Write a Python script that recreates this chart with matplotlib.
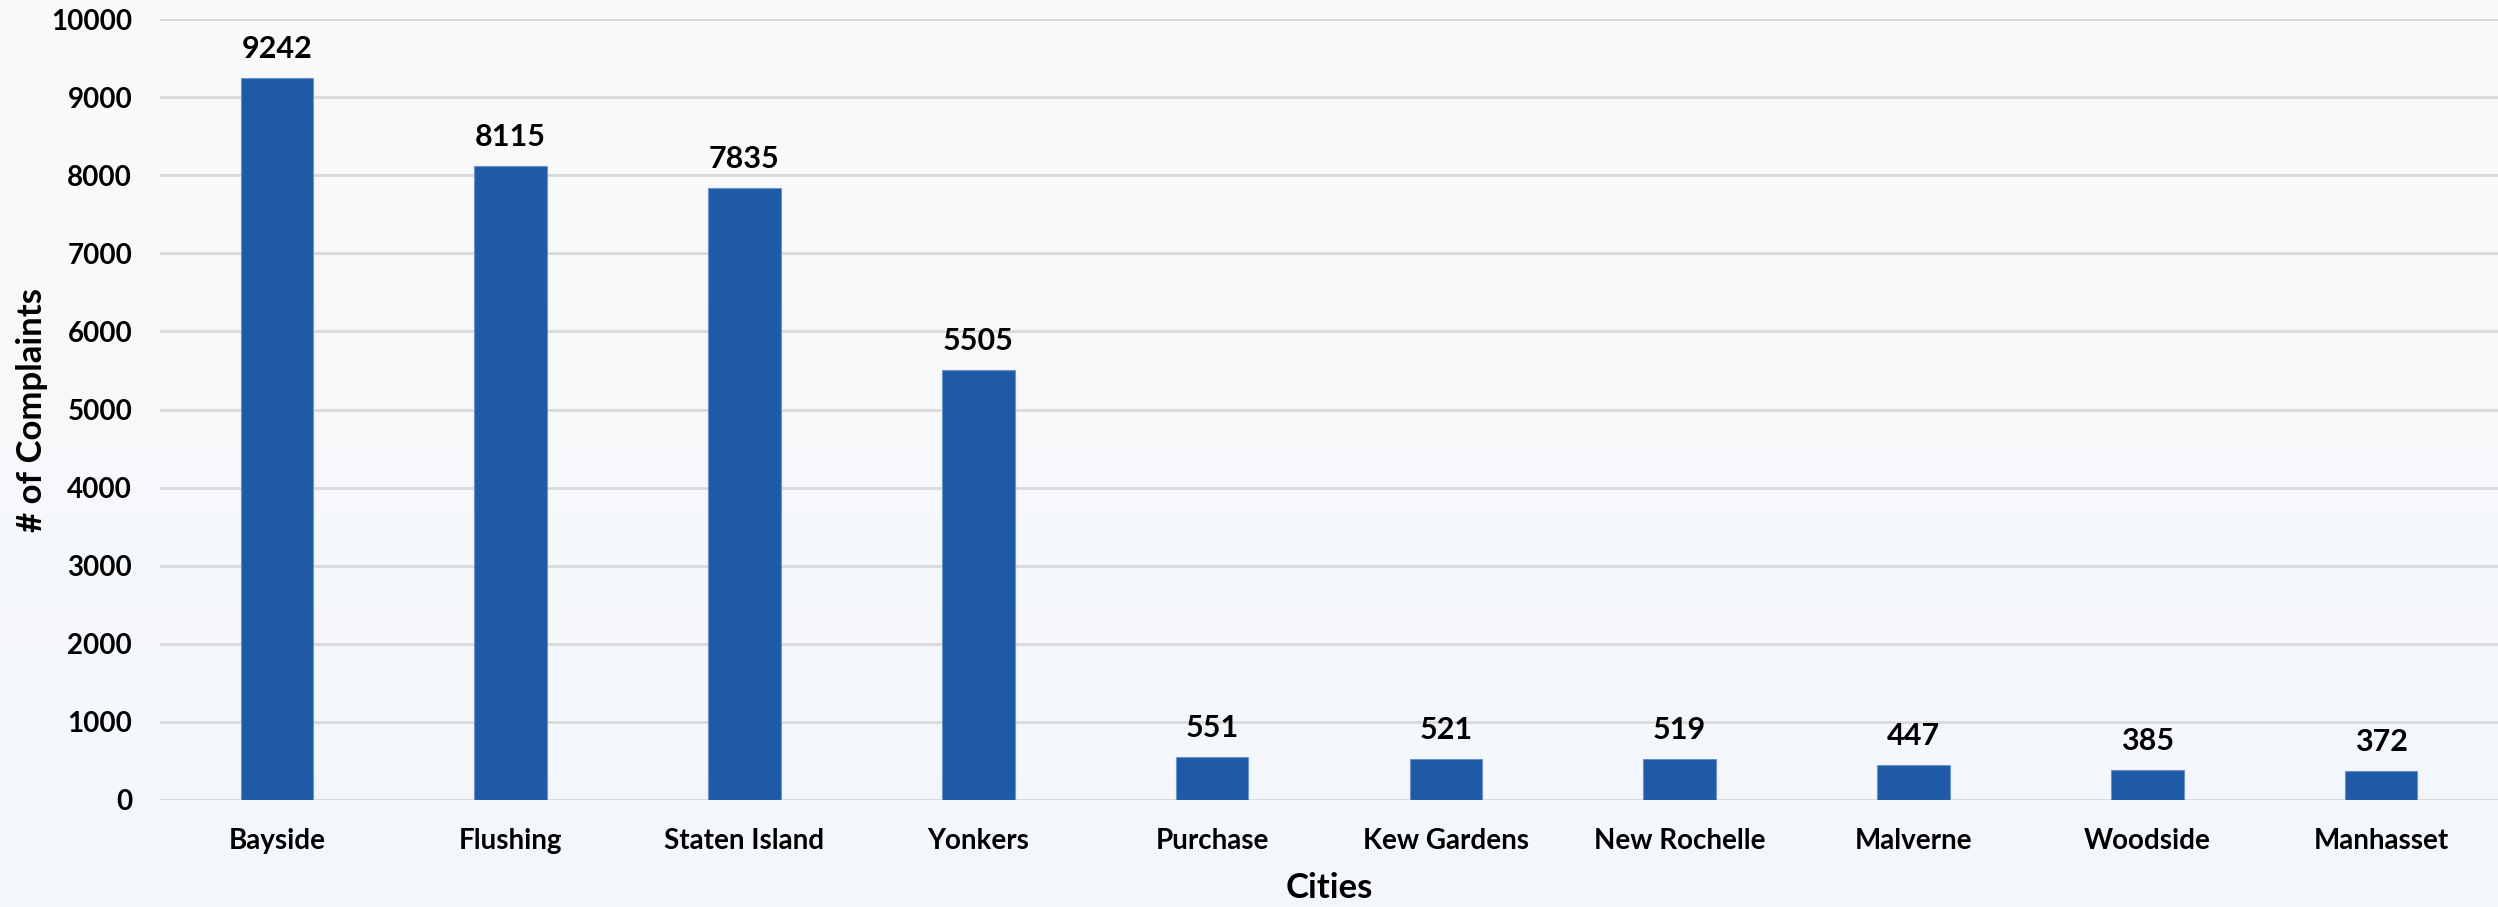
import matplotlib
matplotlib.use("Agg")
import matplotlib.pyplot as plt
import numpy as np
from matplotlib.colors import LinearSegmentedColormap

cities = ["Bayside", "Flushing", "Staten Island", "Yonkers", "Purchase",
          "Kew Gardens", "New Rochelle", "Malverne", "Woodside", "Manhasset"]
complaints = [9242, 8115, 7835, 5505, 551, 521, 519, 447, 385, 372]
yticks = [0, 1000, 2000, 3000, 4000, 5000, 6000, 7000, 8000, 9000, 10000]

plt.rcParams['font.family'] = ['Lato', 'DejaVu Sans']
plt.rcParams['font.weight'] = 'bold'

W, H = 2498, 907
fig = plt.figure(figsize=(W / 100, H / 100), dpi=100)

# background gradient
bg = fig.add_axes([0, 0, 1, 1], zorder=-10)
cmap = LinearSegmentedColormap.from_list("bg", ["#FAFAFA", "#F3F7FC"])
bg.imshow(np.linspace(0, 1, 256).reshape(-1, 1), aspect="auto", cmap=cmap,
          extent=[0, 1, 0, 1], origin="upper")
bg.axis("off")

ax = fig.add_axes([160 / W, 1 - 800 / H, 1 - 160 / W, (800 - 19) / H])
ax.patch.set_alpha(0)
x = np.arange(len(cities))
bars = ax.bar(x, complaints, width=0.31, color="#1F5AA6", edgecolor="#6A93C9",
              linewidth=0.8, zorder=3)
for xi, v in zip(x, complaints):
    ax.annotate(str(v), (xi, v), xytext=(0, 11), textcoords="offset points",
                ha="center", va="bottom", fontsize=22, fontweight="bold",
                color="black")

ax.set_xlim(-0.5, len(cities) - 0.5)
ax.set_ylim(0, 10000)
ax.set_yticks(yticks)
ax.set_yticklabels([str(t) for t in yticks], fontsize=20, fontweight="bold")
ax.set_xticks(x)
ax.set_xticklabels(cities, fontsize=20, fontweight="bold")
ax.tick_params(axis="both", length=0)
ax.tick_params(axis="x", pad=20)
ax.tick_params(axis="y", pad=20)
ax.grid(axis="y", color="#D9D9D9", linewidth=2, zorder=0)
ax.set_axisbelow(True)
for s in ax.spines.values():
    s.set_visible(False)

fig.text((160 + W) / 2 / W, 1 - 888 / H, "Cities", ha="center", va="center",
         fontsize=25, fontweight="bold")
fig.text(32 / W, 1 - 410 / H, "# of Complaints", ha="center", va="center",
         rotation=90, fontsize=25, fontweight="bold")

fig.savefig("out.png", dpi=100)
